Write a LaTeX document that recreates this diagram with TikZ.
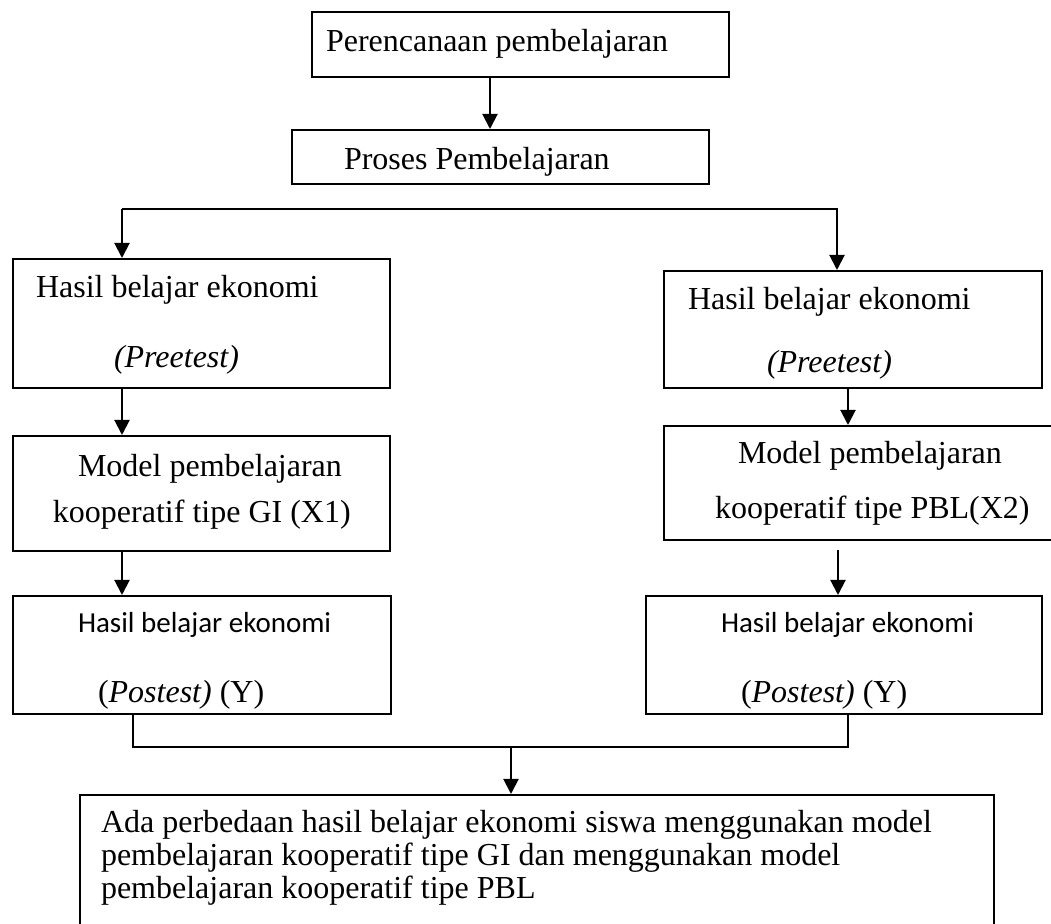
\documentclass[tikz,border=0pt]{standalone}
\usepackage{fontspec}
\setmainfont{Liberation Serif}
\newfontfamily\calibfont{Carlito}
\usetikzlibrary{arrows.meta}

\tikzset{every picture/.style={line width=1pt}}
\tikzset{
  box/.style={draw, rectangle, inner sep=0pt, anchor=north west},
  txt/.style={anchor=base west, inner sep=0pt, font=\fontsize{16}{19}\selectfont},
  txtsans/.style={anchor=base west, inner sep=0pt, font=\calibfont\fontsize{14.5}{17}\selectfont},
  arr/.style={-{Triangle[length=7.5pt,width=7.5pt]}},
}

\begin{document}
\begin{tikzpicture}[x=0.5pt,y=-0.5pt]
%set diagram from (0,0) to (1051,924)
\clip (0,0) rectangle (1051,924);

%Shape: Rectangle [plan]
\node[box, minimum width=208.5pt, minimum height=32.5pt] (plan) at (311,11) {};
%Shape: Rectangle [proses]
\node[box, minimum width=208.5pt, minimum height=27pt] (proses) at (291,129) {};
%Shape: Rectangle [pretest kiri]
\node[box, minimum width=188.5pt, minimum height=64.5pt] (preL) at (12,258) {};
%Shape: Rectangle [pretest kanan]
\node[box, minimum width=189pt, minimum height=58.5pt] (preR) at (663,270) {};
%Shape: Rectangle [model GI]
\node[box, minimum width=188.5pt, minimum height=57.5pt] (modL) at (12,435) {};
%Shape: Rectangle [model PBL]
\node[box, minimum width=196.5pt, minimum height=57pt] (modR) at (663,425) {};
%Shape: Rectangle [postest kiri]
\node[box, minimum width=189pt, minimum height=59pt] (postL) at (12,595) {};
%Shape: Rectangle [postest kanan]
\node[box, minimum width=198pt, minimum height=59pt] (postR) at (645,595) {};
%Shape: Rectangle [kesimpulan]
\node[box, minimum width=457pt, minimum height=68pt] (concl) at (79,794) {};

%Coordinates for the branch lines
\coordinate (splitL) at (122,209);
\coordinate (splitR) at (837,209);
\coordinate (joinL) at (133,747);
\coordinate (joinM) at (511,747);
\coordinate (joinR) at (848,747);

%Straight Lines
\draw[arr] ([xshift=89.5pt]plan.south west) -- ([xshift=89.5pt]plan.south west |- proses.north);
%Straight Lines
\draw[arr] (splitL) -- (splitL |- preL.north);
%Straight Lines
\draw[arr] (splitL) -- (splitR) -- (splitR |- preR.north);
%Straight Lines
\draw[arr] (splitL |- preL.south) -- (splitL |- modL.north);
%Straight Lines
\draw[arr] (splitL |- modL.south) -- (splitL |- postL.north);
%Straight Lines
\draw[arr] (joinR |- preR.south) -- (joinR |- modR.north);
%Straight Lines
\draw[arr, shorten <=4.5pt] ([xshift=87.5pt]modR.south west) -- ([xshift=87.5pt]modR.south west |- postR.north);
%Straight Lines
\draw (joinL |- postL.south) -- (joinL) -- (joinR) -- (joinR |- postR.south);
%Straight Lines
\draw[arr] (joinM) -- (joinM |- concl.north);

% Text Node
\node[txt] (tplan) at (325,52) {Perencanaan pembelajaran};
% Text Node
\node[txt] (tproses) at (343,170) {Proses Pembelajaran};
% Text Node
\node[txt] (tpreL1) at (35,298) {Hasil belajar ekonomi};
% Text Node
\node[txt] (tpreL2) at (113,368) {\textit{(Preetest)}};
% Text Node
\node[txt] (tpreR1) at (687,310) {Hasil belajar ekonomi};
% Text Node
\node[txt] (tpreR2) at (766,373) {\textit{(Preetest)}};
% Text Node
\node[txt] (tmodL1) at (77,477) {Model pembelajaran};
% Text Node
\node[txt] (tmodL2) at (52,523) {kooperatif tipe GI (X1)};
% Text Node
\node[txt] (tmodR1) at (737,464) {Model pembelajaran};
% Text Node
\node[txt] (tmodR2) at (714,519) {kooperatif tipe PBL(X2)};
% Text Node
\node[txtsans] (tpostL1) at (77,633) {Hasil belajar ekonomi};
% Text Node
\node[txt] (tpostL2) at (97,703) {(\textit{Postest)} (Y)};
% Text Node
\node[txtsans] (tpostR1) at (720,633) {Hasil belajar ekonomi};
% Text Node
\node[txt] (tpostR2) at (740,703) {(\textit{Postest)} (Y)};
% Text Node
\node[txt] (tconcl1) at (100,833) {Ada perbedaan hasil belajar ekonomi siswa menggunakan model};
% Text Node
\node[txt] (tconcl2) at (100,866) {pembelajaran kooperatif tipe GI dan menggunakan model};
% Text Node
\node[txt] (tconcl3) at (100,899) {pembelajaran kooperatif tipe PBL};

\end{tikzpicture}
\end{document}
